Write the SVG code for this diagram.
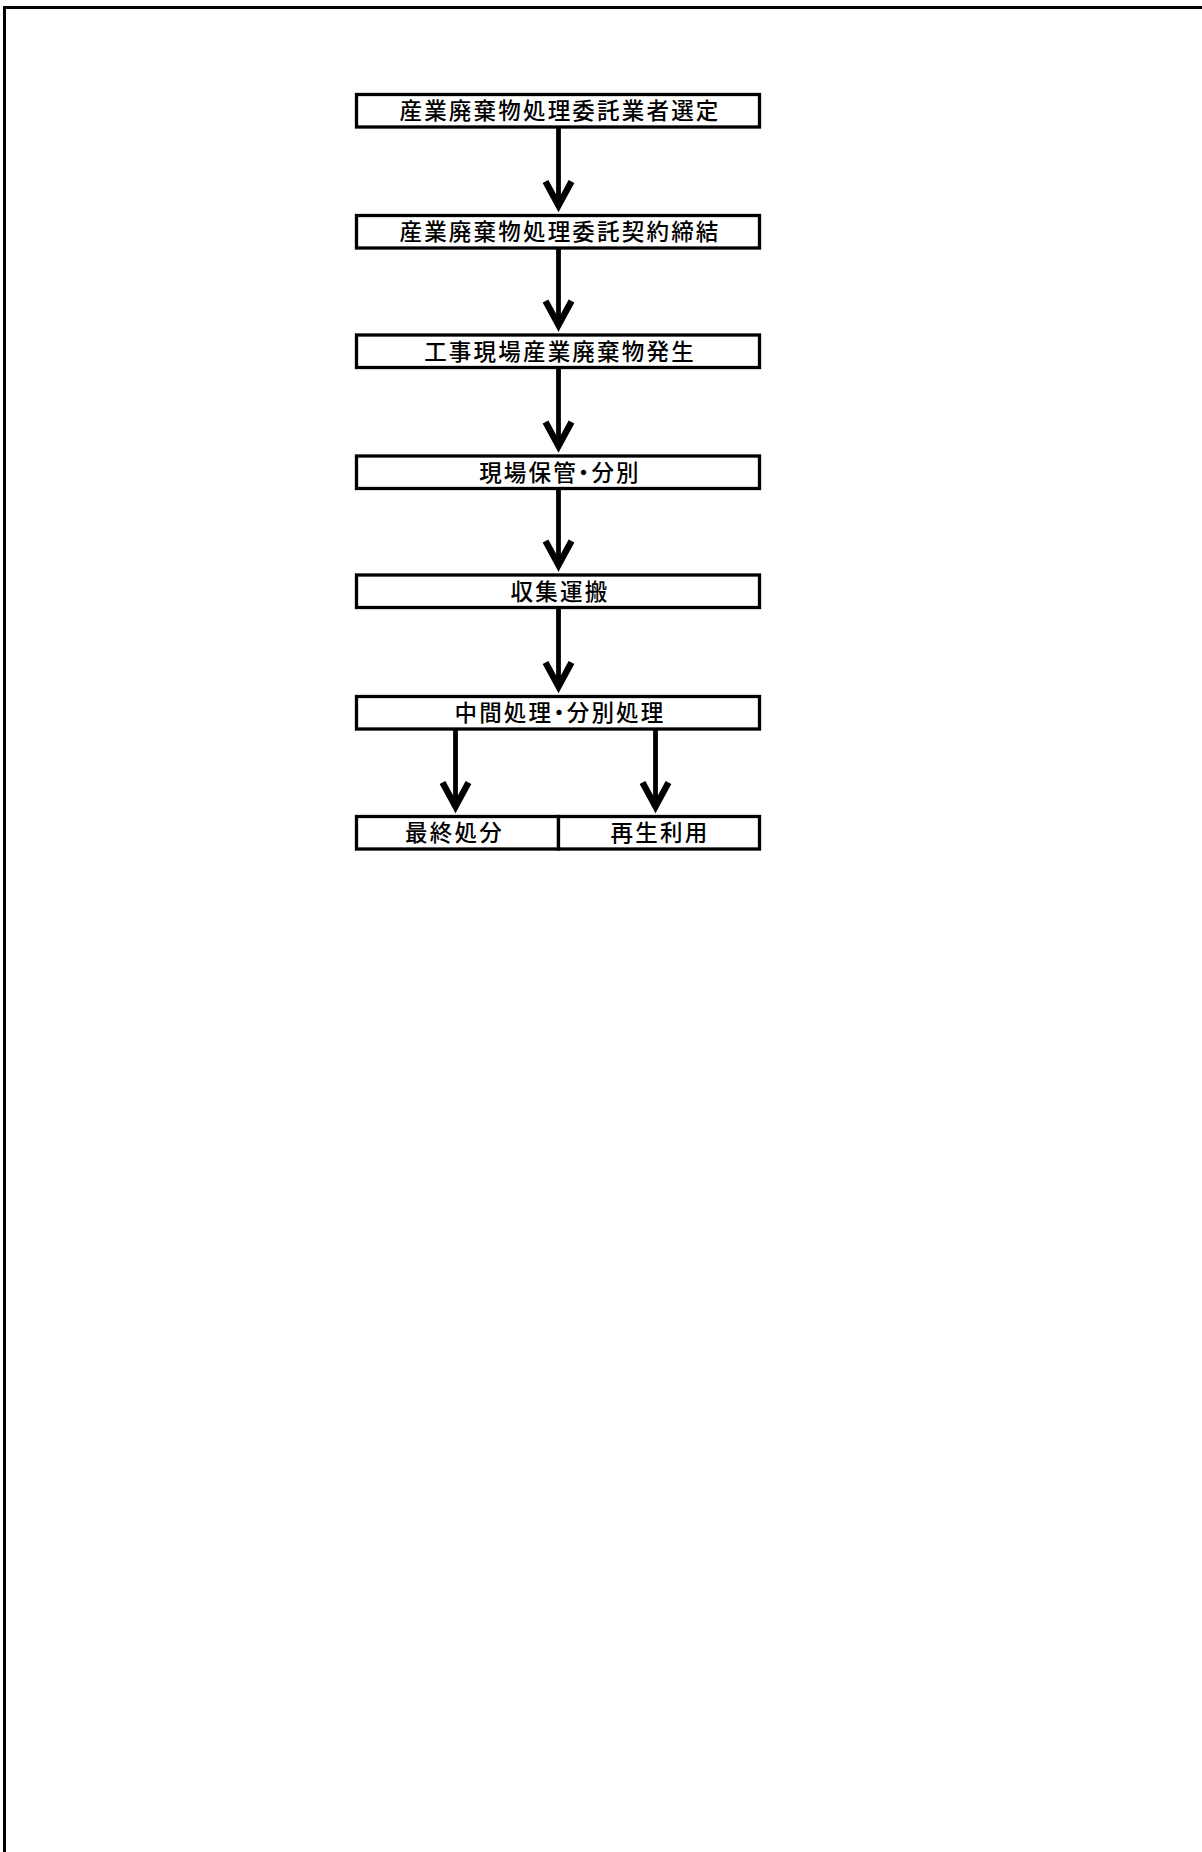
<svg xmlns="http://www.w3.org/2000/svg" width="1202" height="1852" viewBox="0 0 1202 1852">
<style>
.box{fill:#fff;stroke:#000;stroke-width:3.3}
.lbl{font-family:"Noto Sans CJK JP","Noto Sans CJK SC",sans-serif;font-size:22.5px;font-weight:500;letter-spacing:2.2px;fill:#000;text-anchor:middle;font-feature-settings:"halt"}
.con{stroke:#000;stroke-width:4.8;fill:none;marker-end:url(#ah)}
</style>
<defs>
<marker id="ah" markerUnits="userSpaceOnUse" orient="auto" refX="0" refY="0" markerWidth="60" markerHeight="60" viewBox="-30 -30 60 60" overflow="visible">
<path d="M-24,-13 L0,0 L-24,13" fill="none" stroke="#000" stroke-width="6.5" stroke-linejoin="miter"/>
</marker>
</defs>
<rect width="1202" height="1852" fill="#fff"/>
<path d="M4.5,1852 V7.5 H1202" fill="none" stroke="#000" stroke-width="3"/>
<g id="n1"><rect class="box" x="356.5" y="94.5" width="403" height="32.5"/><text class="lbl" x="560" y="119">産業廃棄物処理委託業者選定</text></g>
<g id="n2"><rect class="box" x="356.5" y="215.5" width="403" height="32.5"/><text class="lbl" x="560" y="240">産業廃棄物処理委託契約締結</text></g>
<g id="n3"><rect class="box" x="356.5" y="335" width="403" height="32.5"/><text class="lbl" x="560" y="359.5">工事現場産業廃棄物発生</text></g>
<g id="n4"><rect class="box" x="356.5" y="456" width="403" height="32.5"/><text class="lbl" x="560" y="480.5">現場保管・分別</text></g>
<g id="n5"><rect class="box" x="356.5" y="575" width="403" height="32.5"/><text class="lbl" x="560" y="599.5">収集運搬</text></g>
<g id="n6"><rect class="box" x="356.5" y="696.5" width="403" height="32.5"/><text class="lbl" x="560" y="721">中間処理・分別処理</text></g>
<g id="n7"><rect class="box" x="356.5" y="816.5" width="202" height="32.5"/><text class="lbl" x="454.5" y="841">最終処分</text></g>
<g id="n8"><rect class="box" x="558.5" y="816.5" width="201" height="32.5"/><text class="lbl" x="660" y="841">再生利用</text></g>
<g id="connectors">
<path class="con" d="M558.5,127 V205.5"/>
<path class="con" d="M558.5,248 V325"/>
<path class="con" d="M558.5,367.5 V446"/>
<path class="con" d="M558.5,488.5 V565"/>
<path class="con" d="M558.5,607.5 V686.5"/>
<path class="con" d="M455.5,729 V806.5"/>
<path class="con" d="M655.5,729 V806.5"/>
</g>
</svg>
